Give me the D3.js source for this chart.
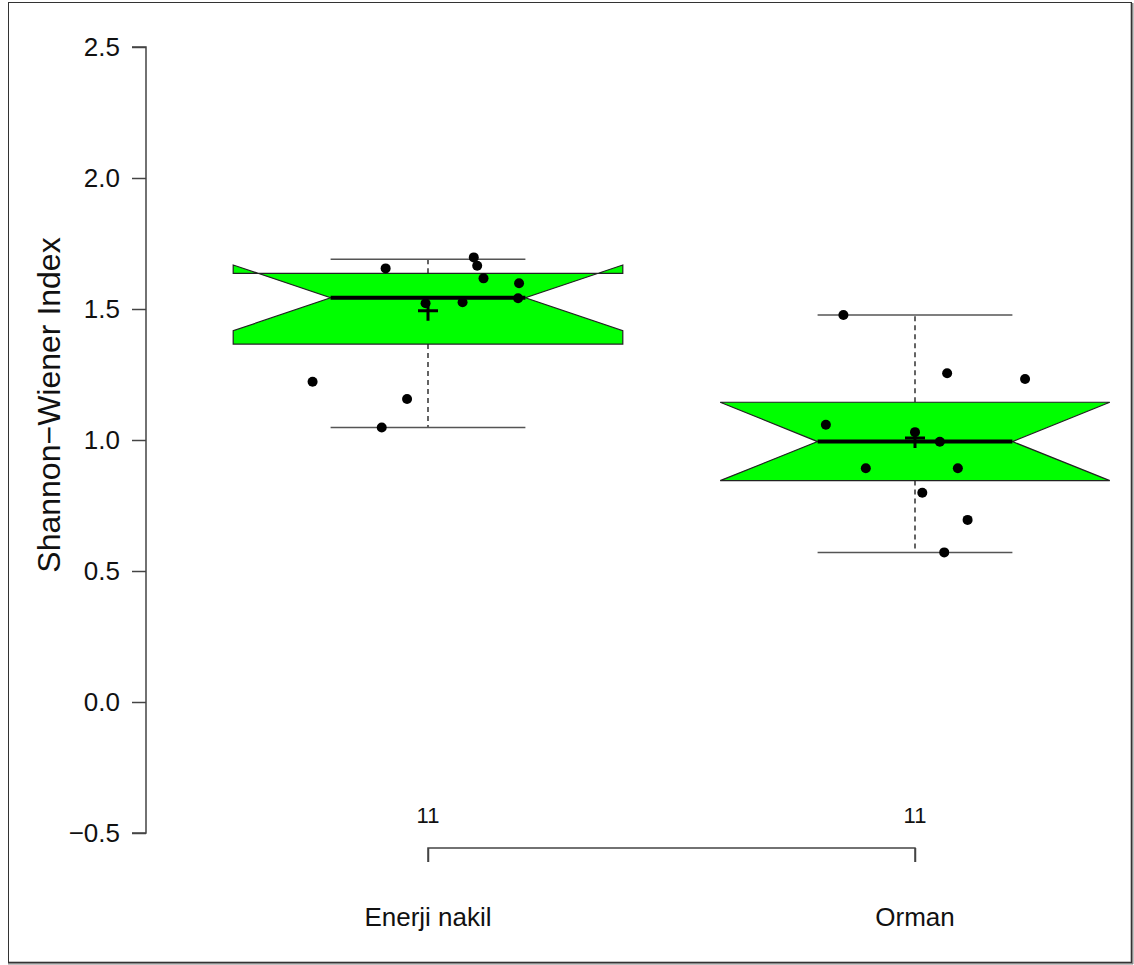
<!DOCTYPE html>
<html>
<head>
<meta charset="utf-8">
<script src="https://cdn.jsdelivr.net/npm/d3@7"></script>
<style>
  html, body { margin: 0; padding: 0; background: #fff; }
  svg { display: block; }
  text { font-family: "Liberation Sans", Arial, Helvetica, sans-serif; fill: #111; }
</style>
</head>
<body>
<svg id="chart" width="1134" height="965"></svg>
<script>
// ---- data ----
const categories = ["Enerji nakil", "Orman"];
const counts = [11, 11];
const q1 = [1.366, 0.845];
const medians = [1.543, 0.994];
const q3 = [1.636, 1.144];
const notchLo = [1.417, 0.845];
const notchHi = [1.668, 1.144];
const whiskerLo = [1.048, 0.571];
const whiskerHi = [1.690, 1.477];
const means = [1.493, 1.008];
// individual observations (values) and their horizontal jitter (fraction of group spacing)
const pointsEnerji = [1.655, 1.697, 1.665, 1.617, 1.598, 1.541, 1.526, 1.522, 1.2225, 1.1565, 1.048];
const jitterEnerji = [-0.087, 0.094, 0.101, 0.114, 0.187, 0.185, 0.071, -0.005, -0.237, -0.043, -0.095];
const pointsOrman = [1.477, 1.2545, 1.233, 1.058, 0.9935, 0.892, 0.892, 0.799, 0.695, 0.571, 1.03];
const jitterOrman = [-0.147, 0.066, 0.226, -0.183, 0.051, -0.101, 0.088, 0.015, 0.108, 0.060, 0.0];
const yTicks = [-0.5, 0.0, 0.5, 1.0, 1.5, 2.0, 2.5];
const yLabel = "Shannon\u2212Wiener Index";

// ---- layout ----
const svg = d3.select("#chart");
const W = 1134, H = 965;

// frame
svg.append("line").attr("x1", 1132).attr("y1", 3).attr("x2", 1132).attr("y2", 964)
  .attr("stroke", "#888").attr("stroke-width", 3);
svg.append("line").attr("x1", 8).attr("y1", 963).attr("x2", 1133).attr("y2", 963)
  .attr("stroke", "#888").attr("stroke-width", 3);
svg.append("rect").attr("x", 8.5).attr("y", 2.5).attr("width", 1123).attr("height", 960)
  .attr("fill", "none").attr("stroke", "#333").attr("stroke-width", 1);

const x = d3.scalePoint().domain(categories).range([428, 915]);
const step = x(categories[1]) - x(categories[0]);
const y = d3.scaleLinear().domain([-0.5, 2.5]).range([833, 47]);

const fmt = d3.format(".1f");
const fmtTick = v => (v < 0 ? "\u2212" : "") + fmt(Math.abs(v));

// y axis
const yAxis = d3.axisLeft(y).tickValues(yTicks).tickFormat(fmtTick).tickSize(14).tickPadding(12);
const gy = svg.append("g").attr("transform", "translate(146,0)").call(yAxis);
gy.select(".domain").attr("stroke", "#444").attr("stroke-width", 1.5)
  .attr("d", `M-14,${y(2.5)}H0V${y(-0.5)}H-14`);
gy.selectAll(".tick line").attr("stroke", "#444").attr("stroke-width", 1.5);
gy.selectAll(".tick text").attr("font-size", 26).style("fill", "#111")
  .attr("font-family", "'Liberation Sans', Arial, sans-serif");

// y label
svg.append("text")
  .attr("transform", `translate(60,405) rotate(-90)`)
  .attr("text-anchor", "middle")
  .attr("font-size", 32)
  .text(yLabel);

// x axis (bracket)
const xAxis = d3.axisBottom(x).tickSize(14).tickFormat("");
const gx = svg.append("g").attr("transform", "translate(0,848)").call(xAxis);
gx.select(".domain").attr("stroke", "#444").attr("stroke-width", 1.5)
  .attr("d", `M${x(categories[0])},14V0H${x(categories[1])}V14`);
gx.selectAll(".tick line").attr("stroke", "#444").attr("stroke-width", 1.5);

// category labels
svg.selectAll("text.cat").data(categories).enter().append("text")
  .attr("class", "cat")
  .attr("x", d => x(d)).attr("y", 926)
  .attr("text-anchor", "middle").attr("font-size", 26)
  .text(d => d);

// counts
svg.selectAll("text.cnt").data(categories).enter().append("text")
  .attr("class", "cnt")
  .attr("x", d => x(d)).attr("y", 823)
  .attr("text-anchor", "middle").attr("font-size", 22)
  .text((d, i) => counts[i]);

// boxes
const hw = step * 0.4;
categories.forEach((c, i) => {
  const cx = x(c);
  const g = svg.append("g");
  // whisker stems (dashed)
  g.append("line").attr("x1", cx).attr("x2", cx).attr("y1", y(q3[i])).attr("y2", y(whiskerHi[i]))
    .attr("stroke", "#111").attr("stroke-width", 1.3).attr("stroke-dasharray", "5,4");
  g.append("line").attr("x1", cx).attr("x2", cx).attr("y1", y(q1[i])).attr("y2", y(whiskerLo[i]))
    .attr("stroke", "#111").attr("stroke-width", 1.3).attr("stroke-dasharray", "5,4");
  // caps
  [whiskerHi[i], whiskerLo[i]].forEach(v => {
    g.append("line").attr("x1", cx - hw / 2).attr("x2", cx + hw / 2).attr("y1", y(v)).attr("y2", y(v))
      .attr("stroke", "#555").attr("stroke-width", 1.5);
  });
  // notched box
  const pts = [
    [cx - hw, y(q1[i])], [cx - hw, y(notchLo[i])], [cx - hw / 2, y(medians[i])],
    [cx - hw, y(notchHi[i])], [cx - hw, y(q3[i])], [cx + hw, y(q3[i])],
    [cx + hw, y(notchHi[i])], [cx + hw / 2, y(medians[i])], [cx + hw, y(notchLo[i])],
    [cx + hw, y(q1[i])]
  ];
  g.append("path").attr("d", d3.line()(pts) + "Z")
    .attr("fill", "#00ff00").attr("stroke", "#222").attr("stroke-width", 1.2);
  // median
  g.append("line").attr("x1", cx - hw / 2).attr("x2", cx + hw / 2)
    .attr("y1", y(medians[i])).attr("y2", y(medians[i]))
    .attr("stroke", "#000").attr("stroke-width", 4);
});

// points
const groups = [[pointsEnerji, jitterEnerji], [pointsOrman, jitterOrman]];
groups.forEach(([vals, jit], i) => {
  const cx = x(categories[i]);
  svg.append("g").selectAll("circle").data(vals).enter().append("circle")
    .attr("cx", (d, k) => cx + jit[k] * step)
    .attr("cy", d => y(d))
    .attr("r", 5)
    .attr("fill", "#000");
});

// means (+)
categories.forEach((c, i) => {
  const cx = x(c), cy = y(means[i]);
  svg.append("path").attr("d", `M${cx - 10},${cy}H${cx + 10}M${cx},${cy - 10}V${cy + 10}`)
    .attr("stroke", "#000").attr("stroke-width", 3);
});
</script>
</body>
</html>
